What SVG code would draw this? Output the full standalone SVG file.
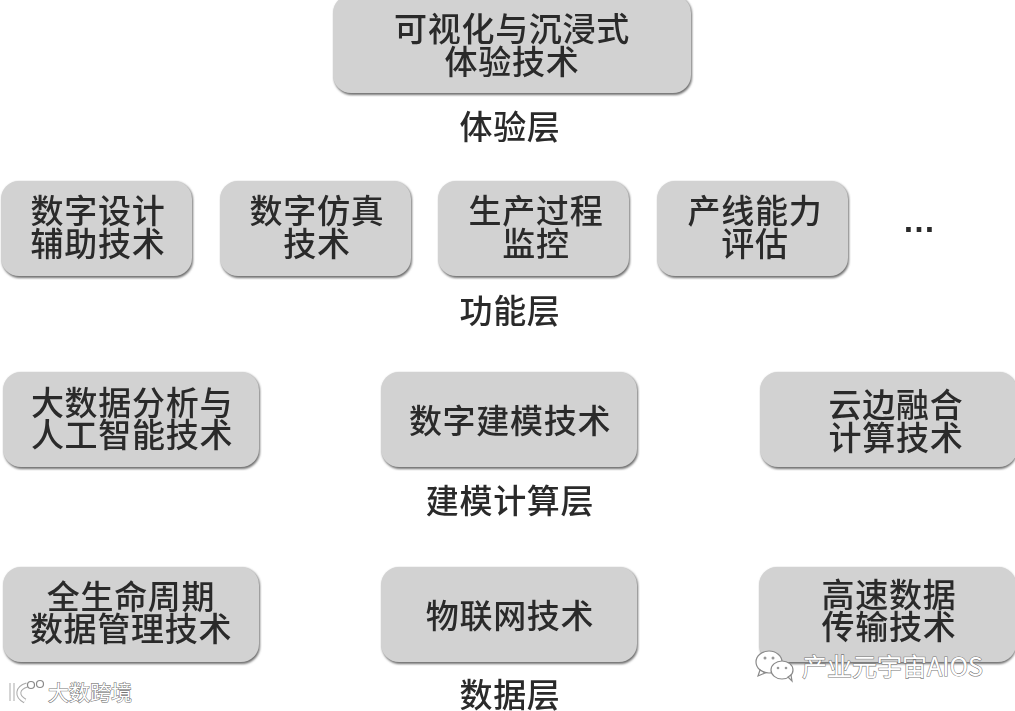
<svg xmlns="http://www.w3.org/2000/svg" width="1015" height="711" viewBox="0 0 1015 711">
<style>
text{font-family:"Noto Sans CJK SC","Noto Sans",sans-serif;font-size:33px;font-weight:500;fill:#2b2b2b;text-anchor:middle;letter-spacing:.7px}
.s{fill:#6f6f6f}
.b{fill:#d2d2d2}
.w{font-size:25px;font-weight:400;fill:#fff;stroke:#777;stroke-width:1.1px;text-anchor:start;letter-spacing:0;paint-order:stroke}
.wi{fill:#fff;stroke:#8a8a8a;stroke-width:1.2}
</style>
<defs><filter id="soft" x="-5%" y="-5%" width="110%" height="110%"><feGaussianBlur stdDeviation="0.8"/></filter><filter id="t" x="-5%" y="-5%" width="110%" height="110%"><feGaussianBlur stdDeviation="0.4"/></filter></defs>
<rect width="1015" height="711" fill="#fff"/>
<g id="connectors"/>
<g id="n-top"><rect class="s" x="334" y="-4" width="358" height="99" rx="18" filter="url(#soft)"/><rect class="b" x="333" y="-5" width="358" height="98" rx="18"/><g filter="url(#t)"><text x="512" y="41">可视化与沉浸式</text><text x="512" y="74">体验技术</text></g></g>
<g id="l-1" filter="url(#t)"><text x="510" y="139">体验层</text></g>
<g id="n-f1"><rect class="s" x="2" y="182" width="191" height="96" rx="18" filter="url(#soft)"/><rect class="b" x="1" y="181" width="191" height="95" rx="18"/><g filter="url(#t)"><text x="98" y="223">数字设计</text><text x="98" y="256">辅助技术</text></g></g>
<g id="n-f2"><rect class="s" x="221" y="182" width="191" height="96" rx="18" filter="url(#soft)"/><rect class="b" x="220" y="181" width="191" height="95" rx="18"/><g filter="url(#t)"><text x="317" y="223">数字仿真</text><text x="317" y="256">技术</text></g></g>
<g id="n-f3"><rect class="s" x="439" y="182" width="191" height="96" rx="18" filter="url(#soft)"/><rect class="b" x="438" y="181" width="191" height="95" rx="18"/><g filter="url(#t)"><text x="536" y="223">生产过程</text><text x="536" y="256">监控</text></g></g>
<g id="n-f4"><rect class="s" x="658" y="182" width="191" height="96" rx="18" filter="url(#soft)"/><rect class="b" x="657" y="181" width="191" height="95" rx="18"/><g filter="url(#t)"><text x="755" y="223">产线能力</text><text x="755" y="256">评估</text></g></g>
<g id="l-more" filter="url(#t)"><text x="919" y="232" style="font-family:'Liberation Sans',sans-serif;font-weight:700;letter-spacing:0">…</text></g>
<g id="l-2" filter="url(#t)"><text x="510" y="323">功能层</text></g>
<g id="n-m1"><rect class="s" x="4" y="373" width="256" height="96" rx="18" filter="url(#soft)"/><rect class="b" x="3" y="372" width="256" height="95" rx="18"/><g filter="url(#t)"><text x="132" y="415">大数据分析与</text><text x="132" y="447">人工智能技术</text></g></g>
<g id="n-m2"><rect class="s" x="382" y="373" width="256" height="96" rx="18" filter="url(#soft)"/><rect class="b" x="381" y="372" width="256" height="95" rx="18"/><g filter="url(#t)"><text x="510" y="433">数字建模技术</text></g></g>
<g id="n-m3"><rect class="s" x="761" y="373" width="256" height="96" rx="18" filter="url(#soft)"/><rect class="b" x="760" y="372" width="257" height="95" rx="18"/><g filter="url(#t)"><text x="896" y="417">云边融合</text><text x="896" y="450">计算技术</text></g></g>
<g id="l-3" filter="url(#t)"><text x="510" y="513">建模计算层</text></g>
<g id="n-d1"><rect class="s" x="4" y="568" width="256" height="96" rx="18" filter="url(#soft)"/><rect class="b" x="3" y="567" width="256" height="95" rx="18"/><g filter="url(#t)"><text x="131" y="609">全生命周期</text><text x="131" y="641">数据管理技术</text></g></g>
<g id="n-d2"><rect class="s" x="382" y="568" width="256" height="96" rx="18" filter="url(#soft)"/><rect class="b" x="381" y="567" width="256" height="95" rx="18"/><g filter="url(#t)"><text x="510" y="628">物联网技术</text></g></g>
<g id="n-d3"><rect class="s" x="760" y="568" width="256" height="96" rx="18" filter="url(#soft)"/><rect class="b" x="759" y="567" width="257" height="95" rx="18"/><g filter="url(#t)"><text x="889" y="607">高速数据</text><text x="889" y="639">传输技术</text></g></g>
<g id="l-4" filter="url(#t)"><text x="510" y="707">数据层</text></g>
<g id="wm-right"><ellipse class="wi" cx="769" cy="662" rx="13" ry="11"/><path class="wi" d="M760 670l-2 6 7-3z"/><ellipse class="wi" cx="782" cy="670" rx="11" ry="9"/><path class="wi" d="M788 677l4 4-1-6z"/><circle cx="765" cy="658" r="1.5" fill="#999"/><circle cx="773" cy="658" r="1.5" fill="#999"/><circle cx="778" cy="668" r="1.3" fill="#999"/><circle cx="786" cy="668" r="1.3" fill="#999"/><text class="w" x="802" y="676">产业元宇宙AIOS</text></g>
<g id="wm-left"><path d="M12 683v18" fill="none" stroke="#aaa" stroke-width="5"/><path d="M12 683v18" fill="none" stroke="#fff" stroke-width="3"/><path d="M27 685c-10 3-11 11-2 16" fill="none" stroke="#aaa" stroke-width="5"/><path d="M27 685c-10 3-11 11-2 16" fill="none" stroke="#fff" stroke-width="3"/><circle cx="31" cy="685" r="3.5" class="wi"/><circle cx="40" cy="684" r="3.5" class="wi"/><text class="w" x="48" y="700" style="font-size:21px">大数跨境</text></g>
</svg>
